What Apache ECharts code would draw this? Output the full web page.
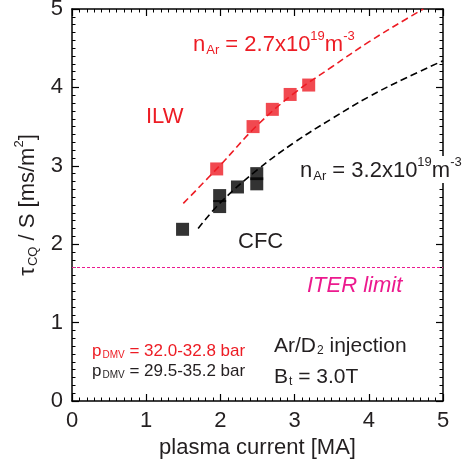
<!DOCTYPE html>
<html>
<head>
<meta charset="utf-8">
<script src="https://cdn.jsdelivr.net/npm/echarts@6/dist/echarts.min.js"></script>
<style>html,body{margin:0;padding:0;background:#fff}#c{width:465px;height:461px}</style>
</head>
<body>
<div id="c"></div>
<script>
// ---- data ----
const ilwCurrent = [1.95, 2.44, 2.70, 2.94, 3.19];
const ilwTau = [2.96, 3.50, 3.72, 3.91, 4.03];
const cfcCurrent = [1.49, 1.99, 1.99, 2.23, 2.49, 2.49];
const cfcTau = [2.19, 2.62, 2.48, 2.73, 2.90, 2.77];
const ilwFitCurrent = [1.5, 2.0, 2.5, 3.0, 3.5, 4.0, 4.5, 4.735];
const ilwFitTau = [2.52, 3.01, 3.52, 3.93, 4.26, 4.58, 4.87, 5.0];
const cfcFitCurrent = [1.7, 2.0, 2.5, 3.0, 3.5, 4.0, 4.5, 5.0];
const cfcFitTau = [2.20, 2.53, 2.95, 3.30, 3.60, 3.88, 4.12, 4.34];
const iterLimit = 1.7;
const xTicks = [0, 1, 2, 3, 4, 5];
const yTicks = [0, 1, 2, 3, 4, 5];

const zip = (a, b) => a.map((v, i) => [v, b[i]]);
const RED = '#ed1c24', BLK = '#000000', PINK = '#ec1a8e', TXT = '#231f20';
const FF = '"Liberation Sans", Arial, sans-serif';

const baseAxis = () => ({
  type: 'value', min: 0, max: 5, interval: 1,
  axisLine: { show: true, onZero: false, lineStyle: { color: '#000', width: 1.5 } },
  axisTick: { show: true, inside: true, length: 7, lineStyle: { color: '#000', width: 1.2 } },
  minorTick: { show: true, splitNumber: 10, length: 3.5, lineStyle: { color: '#000', width: 1 } },
  splitLine: { show: false }, minorSplitLine: { show: false }
});
const lbl = { fontSize: 22, color: TXT, fontFamily: FF, margin: 9 };

const chart = echarts.init(document.getElementById('c'), null, { renderer: 'canvas' });
const rich = (fs, color) => ({
  a: { fontSize: fs, color, fill: color, fontFamily: FF, verticalAlign: 'top', padding: [4, 0, 0, 0] },
  s: { fontSize: Math.round(fs * 0.58), color, fill: color, fontFamily: FF, verticalAlign: 'top', padding: [Math.round(fs * 0.62), 0, 0, 1] },
  p: { fontSize: Math.round(fs * 0.58), color, fill: color, fontFamily: FF, verticalAlign: 'top', padding: [0, 0, 0, 0] }
});

chart.setOption({
  animation: false,
  backgroundColor: '#fff',
  grid: { left: 72, right: 22, top: 9, bottom: 60, containLabel: false, outerBoundsMode: 'none' },
  xAxis: [
    Object.assign(baseAxis(), {
      position: 'bottom',
      axisLabel: Object.assign({}, lbl, { formatter: v => xTicks.includes(v) ? String(v) : '' }),
      name: 'plasma current [MA]', nameLocation: 'middle', nameGap: 36,
      nameTextStyle: { fontSize: 22, color: TXT, fontFamily: FF }
    }),
    Object.assign(baseAxis(), { position: 'top', axisLabel: { show: false } })
  ],
  yAxis: [
    Object.assign(baseAxis(), {
      position: 'left',
      axisLabel: Object.assign({}, lbl, { formatter: v => yTicks.includes(v) ? String(v) : '' }),
      name: '{a|τ}{s|CQ}{a| / S [ms/m}{p|2}{a|]}', nameLocation: 'middle', nameGap: 28,
      nameTextStyle: { rich: rich(22, TXT) }
    }),
    Object.assign(baseAxis(), { position: 'right', axisLabel: { show: false } })
  ],
  series: [
    {
      type: 'line', data: zip(ilwFitCurrent, ilwFitTau), smooth: 0.4, showSymbol: false,
      lineStyle: { color: RED, width: 1.6, type: [7, 4] }, z: 2
    },
    {
      type: 'line', data: zip(cfcFitCurrent, cfcFitTau), smooth: 0.4, showSymbol: false,
      lineStyle: { color: BLK, width: 1.6, type: [7, 4] }, z: 2
    },
    {
      type: 'scatter', data: zip(ilwCurrent, ilwTau), symbol: 'rect', symbolSize: 13,
      itemStyle: { color: RED }, z: 3
    },
    {
      type: 'scatter', data: zip(cfcCurrent, cfcTau), symbol: 'rect', symbolSize: 13,
      itemStyle: { color: BLK }, z: 3,
      markLine: {
        silent: true, symbol: ['none', 'none'], label: { show: false },
        lineStyle: { color: PINK, width: 1.2, type: [3, 2], opacity: 1 },
        data: [{ yAxis: iterLimit }]
      }
    }
  ],
  graphic: [
    { type: 'text', left: 193, top: 30, z: 100,
      style: { text: '{a|n}{s|Ar}{a| = 2.7x10}{p|19}{a|m}{p|-3}', rich: rich(22, RED) } },
    { type: 'text', left: 146, top: 106, z: 100,
      style: { text: 'ILW', fill: RED, fontSize: 22, fontFamily: FF } },
    { type: 'text', left: 300, top: 156, z: 100,
      style: { text: '{a|n}{s|Ar}{a| = 3.2x10}{p|19}{a|m}{p|-3}', rich: rich(22, TXT), backgroundColor: '#fff' } },
    { type: 'text', left: 238, top: 231, z: 100,
      style: { text: 'CFC', fill: TXT, fontSize: 22, fontFamily: FF } },
    { type: 'text', left: 307, top: 275, z: 100,
      style: { text: 'ITER limit', fill: PINK, fontSize: 22, fontStyle: 'italic', fontFamily: FF } },
    { type: 'text', left: 92, top: 343, z: 100,
      style: { text: '{a|p}{s|DMV}{a| = 32.0-32.8 bar}', rich: rich(17, RED) } },
    { type: 'text', left: 92, top: 363, z: 100,
      style: { text: '{a|p}{s|DMV}{a| = 29.5-35.2 bar}', rich: rich(17, TXT) } },
    { type: 'text', left: 274, top: 336, z: 100,
      style: { text: '{a|Ar/D}{s|2}{a| injection}', rich: rich(21, TXT) } },
    { type: 'text', left: 274, top: 367, z: 100,
      style: { text: '{a|B}{s|t}{a| = 3.0T}', rich: rich(21, TXT) } }
  ]
});
</script>
</body>
</html>
